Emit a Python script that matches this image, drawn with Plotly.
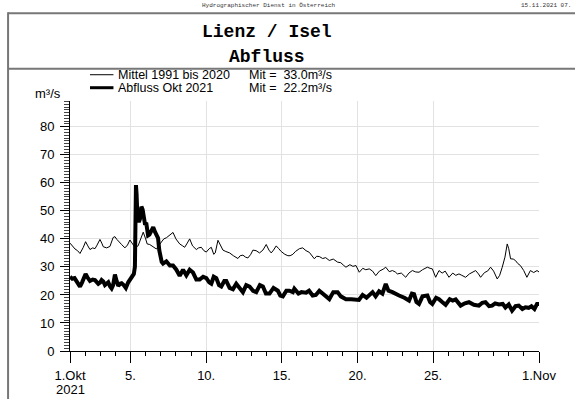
import plotly.graph_objects as go

# ---------------- data ----------------
# day offsets from 1 Oct 2021 00:00 and discharge in m³/s
mittel_day = [0.0, 0.15, 0.33, 0.5, 0.66, 0.88, 1.03, 1.18, 1.32, 1.5, 1.65, 1.76, 1.98, 2.1, 2.2, 2.42, 2.64, 2.85,
              2.97, 3.1, 3.3, 3.41, 3.63, 3.8, 3.96, 4.1, 4.29, 4.5, 4.65, 4.84, 5.0, 5.1, 5.27, 5.38, 5.6, 5.71,
              5.85, 6.04, 6.2, 6.37, 6.6, 6.81, 7.0, 7.25, 7.45, 7.58, 7.75, 7.91, 8.1, 8.35, 8.5, 8.68, 8.85,
              9.01, 9.2, 9.34, 9.5, 9.6, 9.78, 9.95, 10.11, 10.3, 10.55, 10.8, 11.1, 11.25, 11.43, 11.6, 11.76,
              11.95, 12.09, 12.3, 12.53, 12.75, 12.97, 13.15, 13.3, 13.45, 13.63, 13.8, 13.96, 14.2, 14.4, 14.55,
              14.73, 14.9, 15.16, 15.38, 15.6, 15.82, 16.0, 16.15, 16.3, 16.48, 16.7, 16.9, 17.14, 17.4, 17.69,
              17.9, 18.1, 18.24, 18.5, 18.7, 18.9, 19.12, 19.35, 19.55, 19.78, 20.0, 20.21, 20.45, 20.7, 20.87,
              21.1, 21.31, 21.5, 21.64, 21.9, 22.19, 22.4, 22.63, 22.85, 23.07, 23.3, 23.62, 23.8, 23.95, 24.17,
              24.39, 24.6, 24.8, 25.05, 25.3, 25.5, 25.71, 25.9, 26.15, 26.4, 26.6, 26.81, 27.0, 27.14, 27.4,
              27.6, 27.8, 28.0, 28.24, 28.4, 28.57, 28.75, 28.9, 29.0, 29.12, 29.3, 29.44, 29.6, 29.77, 29.99,
              30.2, 30.32, 30.43, 30.65, 30.87, 31.0]
mittel_val = [38.5, 37.5, 36.4, 35.8, 34.8, 37.0, 39.0, 37.5, 36.2, 36.8, 36.5, 37.5, 39.8, 38.5, 37.2, 36.8, 37.3, 40.5,
              40.8, 39.8, 38.5, 38.0, 36.8, 37.8, 39.6, 38.5, 37.0, 37.5, 40.0, 42.4, 40.0, 38.2, 38.0, 37.6, 37.0, 36.4,
              37.5, 39.0, 40.0, 40.4, 41.5, 42.3, 40.0, 38.2, 37.5, 37.0, 38.5, 40.0, 37.5, 36.2, 36.8, 37.0, 35.8,
              35.3, 36.5, 37.0, 34.5, 35.0, 39.5, 37.5, 36.0, 35.5, 35.0, 34.0, 33.0, 34.0, 34.2, 33.5, 33.2,
              34.5, 36.0, 35.8, 35.0, 36.0, 38.0, 36.0, 35.0, 36.0, 37.5, 36.5, 35.5, 34.5, 34.0, 34.0,
              34.5, 35.5, 36.5, 36.8, 35.8, 35.2, 34.0, 32.9, 33.8, 33.7, 33.0, 33.3, 32.3, 32.8, 31.7,
              31.5, 30.5, 29.9, 30.8, 30.2, 30.5, 28.1, 29.5, 29.0, 29.3, 28.5, 26.9, 28.5, 29.2, 29.9,
              28.3, 28.7, 28.2, 27.5, 27.8, 26.3, 27.8, 28.7, 28.2, 28.1, 29.0, 29.9, 29.5, 29.3, 26.3,
              28.7, 27.8, 28.5, 26.3, 27.8, 27.0, 27.5, 27.0, 26.3, 27.5, 28.0, 28.7, 27.5, 26.3, 28.0,
              28.5, 29.9, 28.5, 25.7, 27.0, 29.9, 33.5, 38.2, 36.5, 32.9, 32.8, 32.3, 31.2, 30.5, 28.7,
              26.3, 27.5, 28.7, 28.0, 28.7, 28.2]

abfluss_day = [0.0, 0.15, 0.3, 0.44, 0.55, 0.66, 0.8, 0.95, 1.03, 1.15, 1.32, 1.5, 1.65, 1.87, 2.0, 2.09, 2.2, 2.31,
               2.45, 2.53, 2.65, 2.75, 2.85, 2.97, 3.08, 3.19, 3.3, 3.41, 3.55, 3.69, 3.85, 4.07, 4.22, 4.29, 4.33,
               4.36, 4.4, 4.46, 4.55, 4.62, 4.72, 4.8, 4.88, 4.95, 5.05, 5.16, 5.25, 5.38, 5.5, 5.62, 5.82, 5.9,
               5.98, 6.06, 6.15, 6.37, 6.6, 6.81, 7.03, 7.25, 7.47, 7.69, 7.91, 8.13, 8.35, 8.57, 8.8, 9.01, 9.2,
               9.34, 9.5, 9.67, 9.85, 10.0, 10.2, 10.33, 10.55, 10.77, 10.99, 11.2, 11.43, 11.65, 11.87, 12.1,
               12.31, 12.55, 12.75, 12.95, 13.19, 13.45, 13.74, 13.9, 14.07, 14.3, 14.5, 14.73, 14.83, 15.1, 15.3,
               15.6, 15.8, 16.04, 16.25, 16.48, 16.7, 16.9, 17.14, 17.4, 17.69, 17.9, 18.24, 18.6, 18.9, 19.1,
               19.34, 19.6, 20.0, 20.2, 20.43, 20.65, 20.87, 21.05, 21.31, 21.5, 21.75, 22.1, 22.41, 22.6, 22.74,
               22.9, 23.07, 23.3, 23.62, 23.8, 23.95, 24.2, 24.39, 24.6, 24.83, 25.1, 25.3, 25.49, 25.82, 26.1,
               26.37, 26.7, 27.03, 27.25, 27.46, 27.7, 27.9, 28.1, 28.35, 28.6, 28.78, 29.0, 29.22, 29.45, 29.66,
               29.9, 30.1, 30.32, 30.5, 30.7, 30.87, 31.0]
abfluss_val = [26.5, 25.8, 26.0, 25.0, 24.2, 23.0, 24.5, 27.0, 27.5, 26.3, 25.0, 25.5, 25.3, 24.0, 24.5, 25.3, 24.8, 23.5,
               24.0, 24.5, 23.0, 22.3, 23.5, 27.3, 25.0, 23.2, 24.0, 24.2, 23.5, 22.5, 24.5, 26.0, 27.5, 30.0, 48.0,
               59.2, 56.0, 47.5, 46.0, 47.0, 51.5, 50.5, 47.0, 45.5, 45.3, 41.2, 41.5, 43.0, 44.2, 42.5, 40.3, 36.0,
               33.5, 31.8, 31.2, 32.0, 30.5, 30.5, 29.0, 26.8, 29.0, 27.0, 29.0, 28.0, 25.5, 25.5, 26.5, 26.0, 24.5,
               24.0, 26.5, 26.0, 23.5, 23.0, 25.0, 25.0, 22.5, 22.0, 24.0, 22.5, 21.0, 23.5, 23.0, 21.5,
               21.0, 23.5, 23.0, 20.5, 20.5, 22.5, 21.5, 19.8, 19.5, 21.5, 21.5, 21.0, 22.2, 20.5, 21.0,
               20.8, 21.5, 19.8, 20.0, 21.5, 20.5, 19.5, 18.5, 21.0, 21.0, 19.5, 18.5, 18.5, 18.5, 18.2,
               20.0, 19.0, 21.0, 19.5, 21.3, 20.5, 23.9, 21.5, 21.0, 20.3, 19.8, 19.0, 18.0, 20.5, 20.3,
               17.5, 16.8, 19.5, 19.8, 17.5, 16.8, 19.0, 18.5, 17.5, 16.5, 18.5, 18.0, 18.4, 16.2, 17.0,
               17.4, 16.5, 16.2, 17.2, 17.4, 16.0, 16.2, 17.0, 16.6, 16.8, 15.5, 16.6, 14.4, 16.0, 16.2,
               15.0, 15.6, 15.4, 16.0, 15.0, 16.8, 16.8]

x_tickvals = [0, 4, 9, 14, 19, 24, 31]
x_ticktext = ["1.Okt", "5.", "10.", "15.", "20.", "25.", "1.Nov"]
x_year = "2021"
y_tickvals = [0, 10, 20, 30, 40, 50, 60, 70, 80]

legend_names = ["Mittel 1991 bis 2020", "Abfluss Okt 2021"]
legend_means = ["Mit =\u00a0 33.0m³/s", "Mit =\u00a0 22.2m³/s"]

# ---------------- layout geometry (pixels) ----------------
W, H = 575, 399
PL, PR, PT, PB = 70, 539.5, 100.8, 351


def fx(x):
    return (x - PL) / (PR - PL)


def fy(y):
    return (PB - y) / (PB - PT)


SANS = "Liberation Sans, Arial, sans-serif"
MONO = "Liberation Mono, Courier New, monospace"

fig = go.Figure()
fig.add_trace(go.Scatter(x=mittel_day, y=mittel_val, mode="lines",
                         line=dict(color="black", width=1), name=legend_names[0]))
fig.add_trace(go.Scatter(x=abfluss_day, y=abfluss_val, mode="lines",
                         line=dict(color="black", width=4), name=legend_names[1]))

shapes = []
frame_col = "#777777"
shapes.append(dict(type="line", xref="paper", yref="paper", x0=fx(8), x1=fx(580), y0=fy(13), y1=fy(13),
                   line=dict(color=frame_col, width=2)))
shapes.append(dict(type="line", xref="paper", yref="paper", x0=fx(8), x1=fx(580), y0=fy(68.5), y1=fy(68.5),
                   line=dict(color=frame_col, width=2)))
shapes.append(dict(type="line", xref="paper", yref="paper", x0=fx(8), x1=fx(8), y0=fy(12), y1=fy(405),
                   line=dict(color=frame_col, width=2)))
# legend samples
shapes.append(dict(type="line", xref="paper", yref="paper", x0=fx(90), x1=fx(113.5), y0=fy(74.5), y1=fy(74.5),
                   line=dict(color="black", width=1)))
shapes.append(dict(type="line", xref="paper", yref="paper", x0=fx(90), x1=fx(113.5), y0=fy(87.5), y1=fy(87.5),
                   line=dict(color="black", width=3)))

ann = []
ann.append(dict(text="Hydrographischer Dienst in Österreich", x=fx(269), y=fy(5), xref="paper", yref="paper",
                xanchor="center", yanchor="middle", showarrow=False, font=dict(family=MONO, size=6, color="#333")))
ann.append(dict(text="15.11.2021 07.", x=fx(574), y=fy(5), xref="paper", yref="paper",
                xanchor="right", yanchor="middle", showarrow=False, font=dict(family=MONO, size=6, color="#333")))
ann.append(dict(text="<b>Lienz / Isel</b>", x=fx(267), y=fy(32), xref="paper", yref="paper",
                xanchor="center", yanchor="middle", showarrow=False, font=dict(family=MONO, size=18, color="black")))
ann.append(dict(text="<b>Abfluss</b>", x=fx(267), y=fy(57), xref="paper", yref="paper",
                xanchor="center", yanchor="middle", showarrow=False, font=dict(family=MONO, size=18, color="black")))
for i, yy in enumerate([74.5, 87.5]):
    ann.append(dict(text=legend_names[i], x=fx(116.5), y=fy(yy), xref="paper", yref="paper",
                    xanchor="left", yanchor="middle", showarrow=False,
                    font=dict(family=SANS, size=12.5, color="black")))
    ann.append(dict(text=legend_means[i], x=fx(247.5), y=fy(yy), xref="paper", yref="paper",
                    xanchor="left", yanchor="middle", showarrow=False,
                    font=dict(family=SANS, size=12.5, color="black")))
ann.append(dict(text="m³/s", x=fx(33), y=fy(93), xref="paper", yref="paper",
                xanchor="left", yanchor="middle", showarrow=False, font=dict(family=SANS, size=13, color="black")))
# year under the first x tick label
ann.append(dict(text=x_year, x=x_tickvals[0], y=fy(389.5), xref="x", yref="paper",
                xanchor="center", yanchor="middle", showarrow=False, font=dict(family=SANS, size=13, color="black")))

grid_col = "#e2e2e2"
fig.update_layout(
    width=W, height=H,
    margin=dict(l=PL, r=W - PR, t=PT, b=H - PB, pad=0, autoexpand=False),
    paper_bgcolor="white", plot_bgcolor="white",
    showlegend=False,
    shapes=shapes, annotations=ann,
    font=dict(family=SANS, size=13, color="black"),
    xaxis=dict(range=[0, 31], tickmode="array", tickvals=x_tickvals, ticktext=x_ticktext,
               automargin=False,
               ticks="outside", ticklen=11, tickcolor="black", tickwidth=1,
               showline=True, linecolor="black", linewidth=1,
               showgrid=True, gridcolor=grid_col, gridwidth=1, zeroline=False,
               ticklabelstandoff=1,
               minor=dict(dtick=1, tick0=0, ticks="outside", ticklen=4, tickcolor="black", showgrid=False),
               tickfont=dict(family=SANS, size=13, color="black")),
    yaxis=dict(range=[0, 89.2], tickmode="array", tickvals=y_tickvals,
               automargin=False,
               ticks="outside", ticklen=9, tickcolor="black", tickwidth=1,
               showline=True, linecolor="black", linewidth=1,
               showgrid=True, gridcolor=grid_col, gridwidth=1, zeroline=False,
               ticklabelstandoff=3,
               minor=dict(dtick=1, tick0=0, ticks="outside", ticklen=5, tickcolor="#444", showgrid=False),
               tickfont=dict(family=SANS, size=13, color="black")),
)

fig.write_html("out.html")
